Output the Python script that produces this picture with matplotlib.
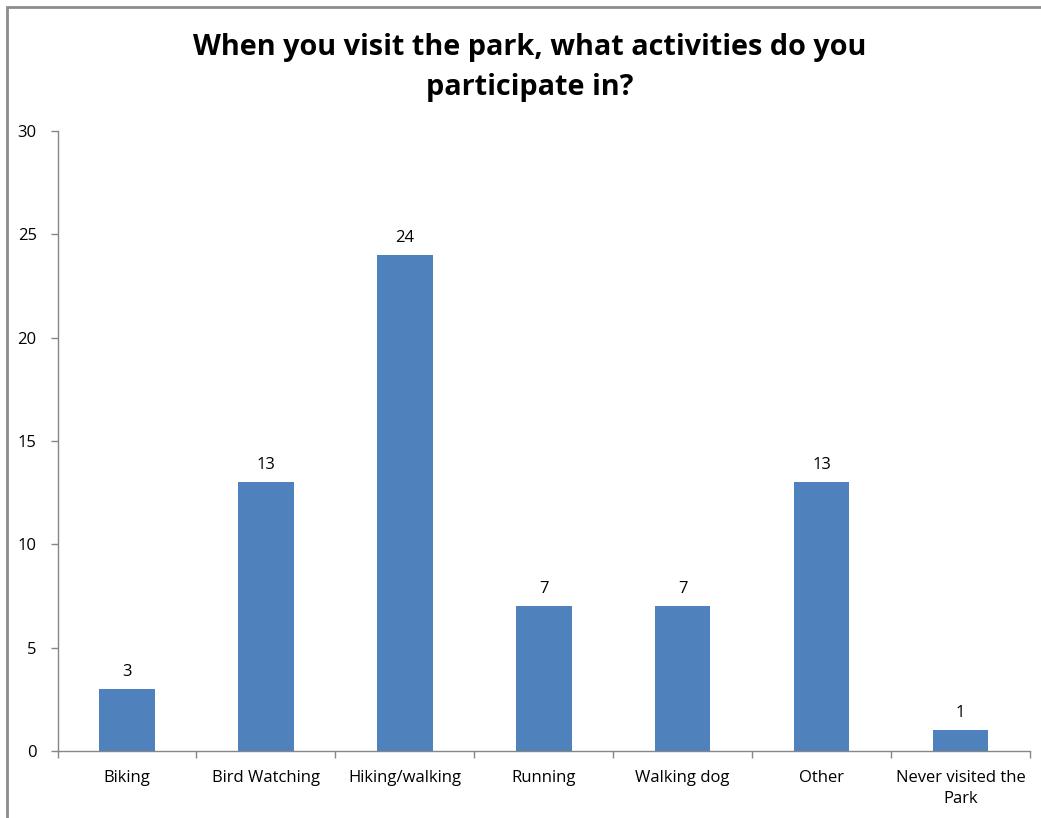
import matplotlib.pyplot as plt
from matplotlib.patches import Rectangle

categories = ['Biking', 'Bird Watching', 'Hiking/walking', 'Running',
              'Walking dog', 'Other', 'Never visited the\nPark']
counts = [3, 13, 24, 7, 7, 13, 1]

title = 'When you visit the park, what activities do you\nparticipate in?'

plt.rcParams['font.family'] = ['Open Sans', 'DejaVu Sans']

W, H = 1041, 818
fig = plt.figure(figsize=(W / 100, H / 100), dpi=100)
ax = fig.add_axes([57.5 / W, 1 - 751 / H, (1030 - 57.5) / W, (751 - 131) / H])

axis_gray = '#868686'
x = range(len(categories))
bars = ax.bar(x, counts, width=0.4, color='#4F81BD', zorder=2)

for b, v in zip(bars, counts):
    ax.text(b.get_x() + b.get_width() / 2, v + 0.45, str(v),
            ha='center', va='bottom', fontsize=12)

ax.set_xlim(-0.5, len(categories) - 0.5)
ax.set_ylim(0, 30)
ax.set_yticks(range(0, 31, 5))

# category labels sit between boundary ticks
ax.set_xticks([i + 0.5 for i in range(-1, len(categories))])
ax.set_xticklabels([])
ax.set_xticks(list(x), minor=True)
ax.set_xticklabels(categories, minor=True, fontsize=12, linespacing=1.35)
ax.tick_params(axis='x', which='minor', length=0, pad=14)
ax.tick_params(axis='x', which='major', length=5, color=axis_gray, width=1)
ax.tick_params(axis='y', length=5, color=axis_gray, width=1, labelsize=12, pad=10)

for side in ['top', 'right']:
    ax.spines[side].set_visible(False)
for side in ['left', 'bottom']:
    ax.spines[side].set_color(axis_gray)
    ax.spines[side].set_linewidth(1)

fig.text(530 / W, 1 - 67 / H, title, ha='center', va='center',
         fontsize=20.8, fontweight='bold', linespacing=1.5)

# chart area frame
fig.patches.append(Rectangle((7 / W, -0.1), 1.2, 1 - 7 / H + 0.1,
                             transform=fig.transFigure, fill=False,
                             edgecolor='#8c8c8c', linewidth=2))

fig.savefig('out.png', dpi=100)
